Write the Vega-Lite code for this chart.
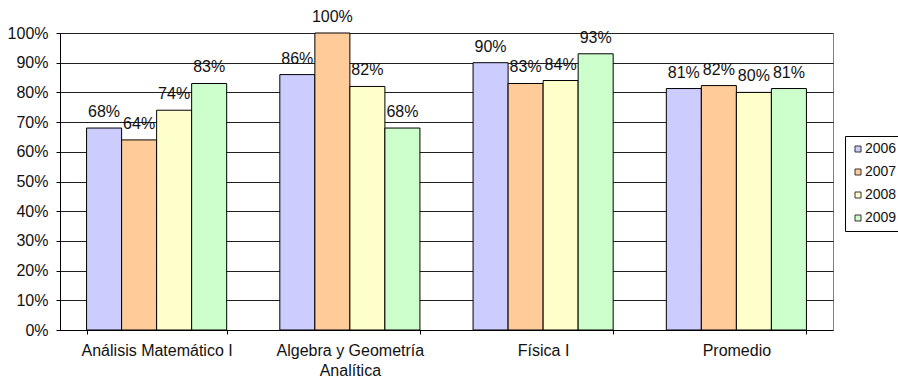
{
  "$schema": "https://vega.github.io/schema/vega-lite/v6.json",
  "width": 773,
  "height": 297,
  "autosize": {"type": "none"},
  "padding": {"left": 60, "top": 33, "right": 65, "bottom": 52},
  "background": "white",
  "config": {
    "font": "Liberation Sans",
    "view": {"stroke": "#808080", "strokeWidth": 1}
  },
  "data": {
    "values": [
      {"materia": "Análisis Matemático I", "anio": "2006", "valor": 0.68},
      {"materia": "Análisis Matemático I", "anio": "2007", "valor": 0.64},
      {"materia": "Análisis Matemático I", "anio": "2008", "valor": 0.74},
      {"materia": "Análisis Matemático I", "anio": "2009", "valor": 0.83},
      {"materia": "Algebra y Geometría Analítica", "anio": "2006", "valor": 0.86},
      {"materia": "Algebra y Geometría Analítica", "anio": "2007", "valor": 1.0},
      {"materia": "Algebra y Geometría Analítica", "anio": "2008", "valor": 0.82},
      {"materia": "Algebra y Geometría Analítica", "anio": "2009", "valor": 0.68},
      {"materia": "Física I", "anio": "2006", "valor": 0.90},
      {"materia": "Física I", "anio": "2007", "valor": 0.83},
      {"materia": "Física I", "anio": "2008", "valor": 0.84},
      {"materia": "Física I", "anio": "2009", "valor": 0.93},
      {"materia": "Promedio", "anio": "2006", "valor": 0.813},
      {"materia": "Promedio", "anio": "2007", "valor": 0.823},
      {"materia": "Promedio", "anio": "2008", "valor": 0.80},
      {"materia": "Promedio", "anio": "2009", "valor": 0.813}
    ]
  },
  "encoding": {
    "x": {
      "field": "materia",
      "type": "nominal",
      "sort": null,
      "scale": {"paddingInner": 0.275, "paddingOuter": 0.1375},
      "axis": {
        "title": null,
        "labelAngle": 0,
        "labelFont": "Liberation Sans",
        "labelFontSize": 16,
        "labelColor": "#111",
        "labelPadding": 8,
        "labelLineHeight": 20,
        "labelBaseline": "top",
        "labelExpr": "datum.value == 'Algebra y Geometría Analítica' ? ['Algebra y Geometría', 'Analítica'] : datum.value",
        "tickBand": "extent",
        "tickSize": 4,
        "tickColor": "#000",
        "domainColor": "#000",
        "grid": false
      }
    },
    "xOffset": {"field": "anio", "type": "nominal", "scale": {"paddingInner": 0, "paddingOuter": 0}},
    "y": {
      "field": "valor",
      "type": "quantitative",
      "scale": {"domain": [0, 1], "nice": false},
      "axis": {
        "title": null,
        "values": [0, 0.1, 0.2, 0.3, 0.4, 0.5, 0.6, 0.7, 0.8, 0.9, 1.0],
        "format": ".0%",
        "labelFont": "Liberation Sans",
        "labelFontSize": 16,
        "labelColor": "#111",
        "labelPadding": 8,
        "tickSize": 4,
        "tickColor": "#000",
        "domainColor": "#000",
        "grid": true,
        "gridColor": "#202020",
        "gridWidth": 1
      }
    }
  },
  "layer": [
    {
      "mark": {"type": "bar", "stroke": "#000", "strokeWidth": 1},
      "encoding": {
        "color": {
          "field": "anio",
          "type": "nominal",
          "scale": {"domain": ["2006", "2007", "2008", "2009"], "range": ["#CCCCFF", "#FFCC99", "#FFFFCC", "#CCFFCC"]},
          "legend": {
            "title": null,
            "orient": "none",
            "legendX": 785,
            "legendY": 103,
            "symbolType": "square",
            "symbolSize": 36,
            "symbolStrokeColor": "#333",
            "symbolStrokeWidth": 1,
            "labelFont": "Liberation Sans",
            "labelFontSize": 14,
            "labelColor": "#111",
            "labelOffset": 0,
            "rowPadding": 9,
            "padding": 6,
            "strokeColor": "#000",
            "fillColor": "white"
          }
        }
      }
    },
    {
      "mark": {"type": "text", "baseline": "bottom", "dy": -8, "font": "Liberation Sans", "fontSize": 16, "color": "#111"},
      "encoding": {
        "text": {"field": "valor", "type": "quantitative", "format": ".0%"}
      }
    }
  ]
}
